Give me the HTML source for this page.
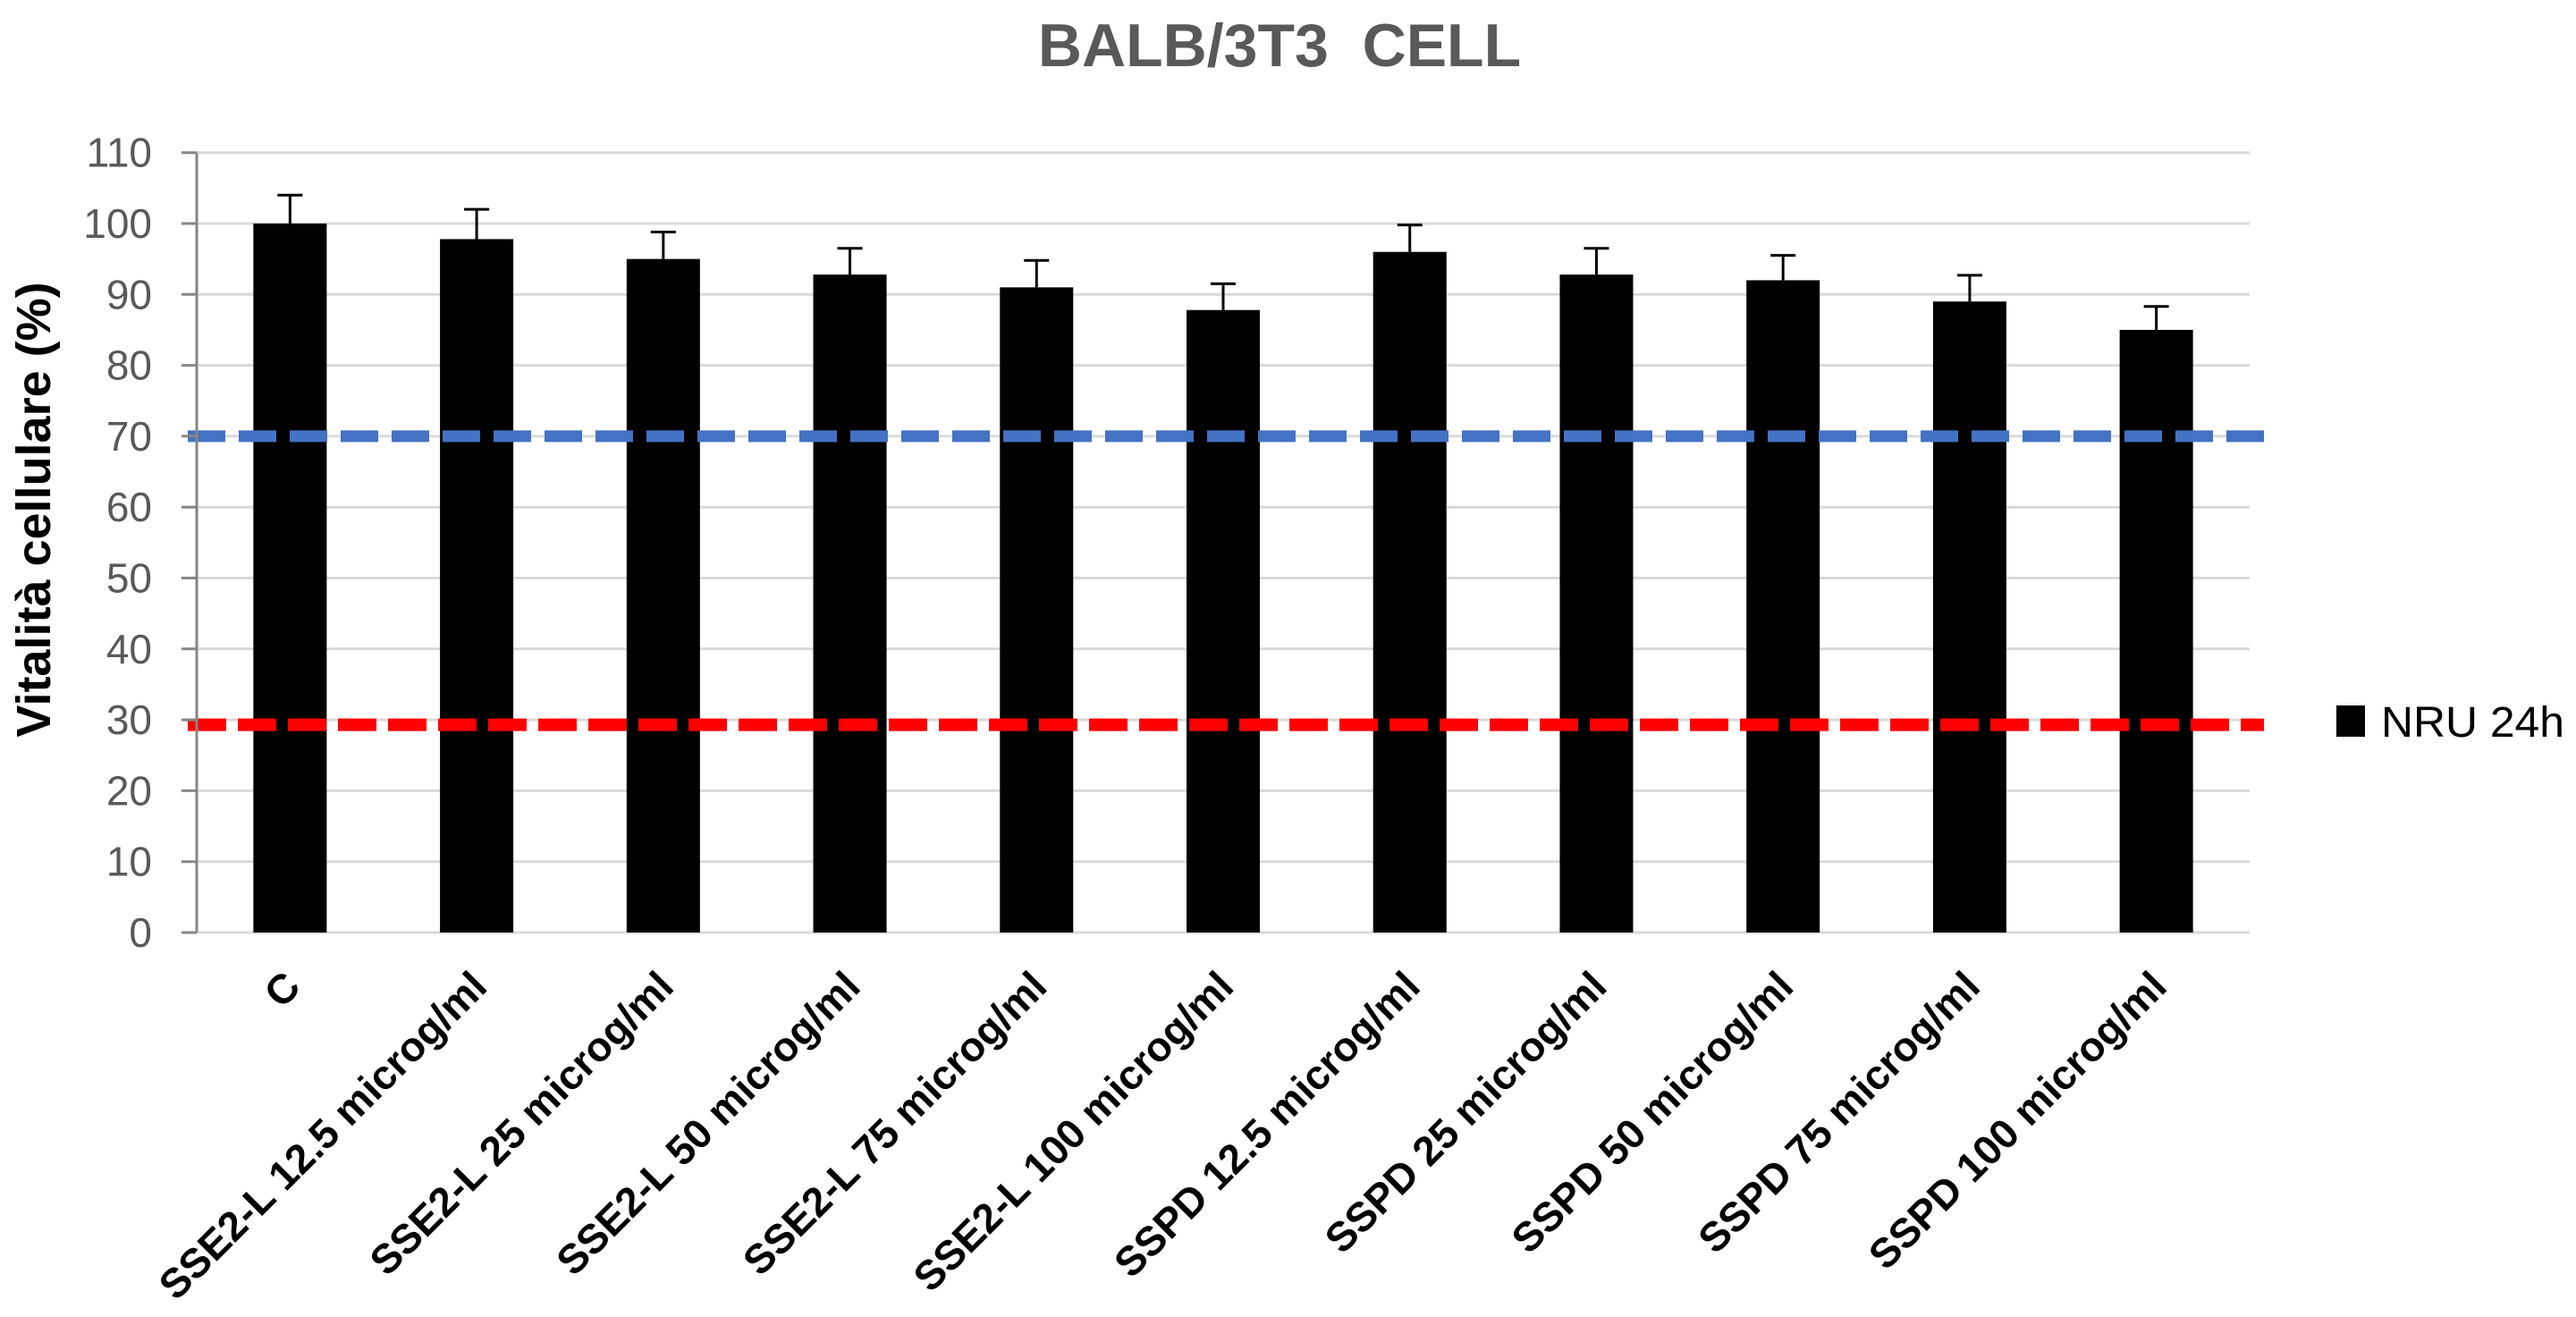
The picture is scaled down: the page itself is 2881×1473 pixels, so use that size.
<!DOCTYPE html>
<html><head><meta charset="utf-8"><style>
html,body{margin:0;padding:0;background:#fff;}
svg{display:block;font-family:"Liberation Sans",sans-serif;}
</style></head><body>
<svg id="chart" width="2881" height="1473" viewBox="0 0 2881 1473" xmlns="http://www.w3.org/2000/svg">
<rect width="2881" height="1473" fill="#fff"/>
<text x="1431" y="74" text-anchor="middle" font-size="68" font-weight="bold" fill="#595959" xml:space="preserve">BALB/3T3  CELL</text>
<text transform="translate(56,570) rotate(-90)" text-anchor="middle" font-size="54" font-weight="bold" fill="#000">Vitalità cellulare (%)</text>
<g id="grid"></g><g id="bars"></g><g id="refs"></g><g id="axes"></g>
<rect x="2613" y="789" width="32" height="35" fill="#000"/>
<text x="2663" y="824" font-size="48" fill="#000" textLength="205" lengthAdjust="spacingAndGlyphs">NRU 24h</text>
</svg>
<script>
const categories=["C","SSE2-L 12.5 microg/ml","SSE2-L 25 microg/ml","SSE2-L 50 microg/ml","SSE2-L 75 microg/ml","SSE2-L 100 microg/ml","SSPD 12.5 microg/ml","SSPD 25 microg/ml","SSPD 50 microg/ml","SSPD 75 microg/ml","SSPD 100 microg/ml"];
const values=[100,97.8,95,92.8,91,87.8,96,92.8,92,89,85];
const errors=[4,4.2,3.8,3.7,3.8,3.7,3.8,3.7,3.5,3.7,3.3];
const yTicks=[0,10,20,30,40,50,60,70,80,90,100,110];
const refBlue=70;
const refRed=29.3;

const NS="http://www.w3.org/2000/svg";
const X0=220,X1=2516,Y0=1043,YPER=7.93;
const band=(X1-X0)/categories.length;
function y(v){return Y0-v*YPER;}
function xc(i){return X0+band*(i+0.5);}
function mk(tag,attrs,parent){const e=document.createElementNS(NS,tag);for(const k in attrs)e.setAttribute(k,attrs[k]);parent.appendChild(e);return e;}
const grid=document.getElementById('grid'),bars=document.getElementById('bars'),refs=document.getElementById('refs'),axes=document.getElementById('axes');
yTicks.forEach(t=>{
  const g=mk('line',{x1:X0,x2:X1,y1:y(t),y2:y(t),stroke:'#d9d9d9','stroke-width':3},grid);
  
  
  const tk=mk('line',{x1:203,x2:X0,y1:y(t),y2:y(t),stroke:'#868686','stroke-width':3},axes);
  
  
  const lb=mk('text',{x:170,y:y(t)+16,'text-anchor':'end','font-size':46,fill:'#595959'},axes);
  lb.textContent=t;
  
  
});
const ax=mk('line',{x1:X0,x2:X0,y1:y(110),y2:Y0,stroke:'#868686','stroke-width':3},axes);


const bw=82;
values.forEach((v,i)=>{
  const c=xc(i);
  const r=mk('rect',{x:c-bw/2,y:y(v),width:bw,height:Y0-y(v),fill:'#000'},bars);
  
  
  const top=y(v+errors[i]);
  const e1=mk('line',{x1:c,x2:c,y1:y(v),y2:top,stroke:'#000','stroke-width':3},bars);
  
  
  const e2=mk('line',{x1:c-14,x2:c+14,y1:top,y2:top,stroke:'#000','stroke-width':3},bars);
  
  
  const lb=mk('text',{transform:`translate(${c+14},1106) rotate(-45)`,'text-anchor':'end','font-size':46,'font-weight':'bold',fill:'#000'},axes);
  lb.textContent=categories[i];
  
  
});
const bl=mk('line',{x1:210,x2:2532,y1:y(refBlue),y2:y(refBlue),stroke:'#4472c4','stroke-width':13,'stroke-dasharray':'42 15'},refs);


const rl=mk('line',{x1:210,x2:2532,y1:y(refRed),y2:y(refRed),stroke:'#ff0000','stroke-width':14,'stroke-dasharray':'43 13'},refs);


</script>
</body></html>
